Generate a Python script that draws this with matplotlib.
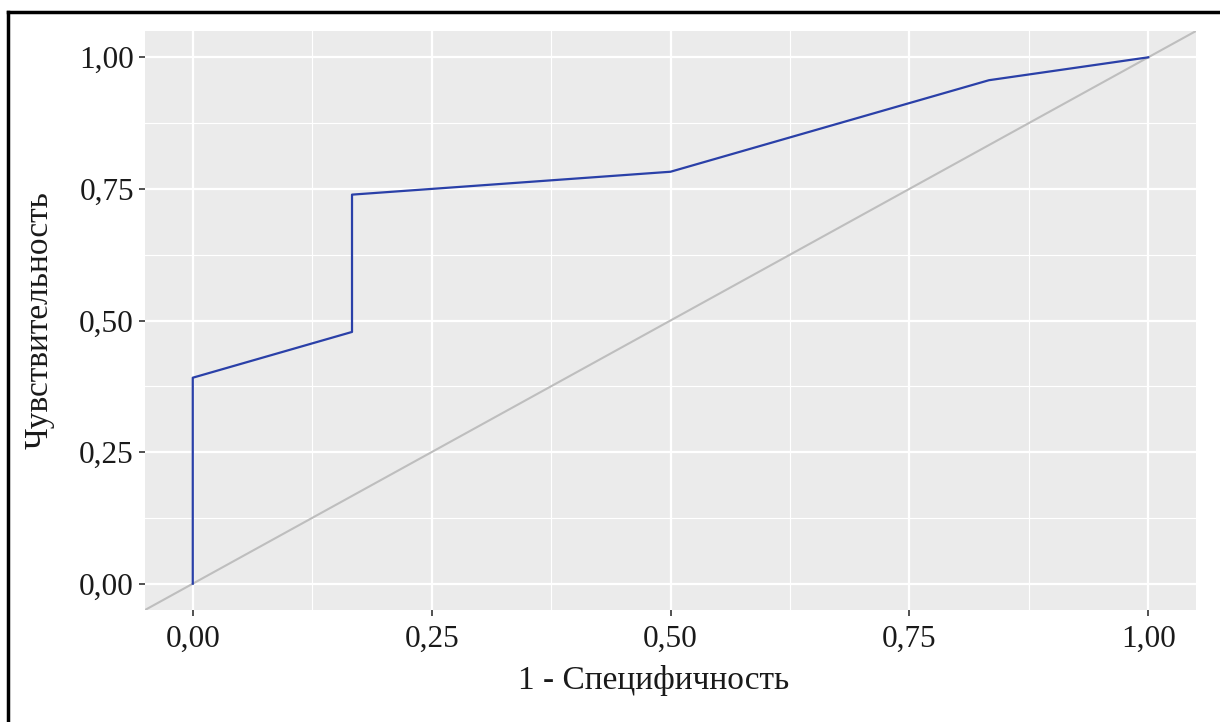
import matplotlib
matplotlib.use("Agg")
import matplotlib.pyplot as plt
from matplotlib.lines import Line2D

# ROC curve points (1 - specificity, sensitivity)
fpr = [0.0, 0.0, 1/6, 1/6, 0.5, 5/6, 1.0]
tpr = [0.0, 9/23, 11/23, 17/23, 18/23, 22/23, 1.0]

ticks = [0.0, 0.25, 0.5, 0.75, 1.0]
tick_labels = ["0,00", "0,25", "0,50", "0,75", "1,00"]
minor = [0.125, 0.375, 0.625, 0.875]

plt.rcParams['font.family'] = ['Liberation Serif', 'DejaVu Serif']

fig = plt.figure(figsize=(12.2, 7.22), dpi=100)
ax = fig.add_axes([145/1220, 1 - 610/722, (1196-145)/1220, (610-31)/722])
ax.set_facecolor("#EBEBEB")

ax.set_xlim(-0.05, 1.05)
ax.set_ylim(-0.05, 1.05)

for v in minor:
    ax.axvline(v, color="white", lw=0.8, zorder=0)
    ax.axhline(v, color="white", lw=0.8, zorder=0)
for v in ticks:
    ax.axvline(v, color="white", lw=1.6, zorder=0)
    ax.axhline(v, color="white", lw=1.6, zorder=0)

# diagonal reference line across whole panel
ax.plot([-0.05, 1.05], [-0.05, 1.05], color="#BEBEBE", lw=1.5, zorder=2)
ax.plot(fpr, tpr, color="#2A40A8", lw=1.6, zorder=3)

ax.set_xticks(ticks)
ax.set_xticklabels(tick_labels)
ax.set_yticks(ticks)
ax.set_yticklabels(tick_labels)
ax.tick_params(axis="both", length=4, width=1.2, color="#333333",
               labelsize=22.5, labelcolor="#1a1a1a")
ax.tick_params(axis="x", pad=7)
ax.tick_params(axis="y", pad=4)
for s in ax.spines.values():
    s.set_visible(False)

ax.set_xlabel("1 - Специфичность", fontsize=24, color="#1a1a1a", labelpad=9)
ax.xaxis.set_label_coords(0.4835, -0.095)
ax.set_ylabel("Чувствительность", fontsize=24, color="#1a1a1a", labelpad=18)

# frame (top and left visible, cropped on the other sides)
fig.add_artist(Line2D([7.5/1220, 1.0], [1 - 12/722, 1 - 12/722],
                      transform=fig.transFigure, color="black", lw=2.5))
fig.add_artist(Line2D([7.5/1220, 7.5/1220], [0.0, 1 - 12/722],
                      transform=fig.transFigure, color="black", lw=2.5))

fig.savefig("out.png", dpi=100, facecolor="white")
